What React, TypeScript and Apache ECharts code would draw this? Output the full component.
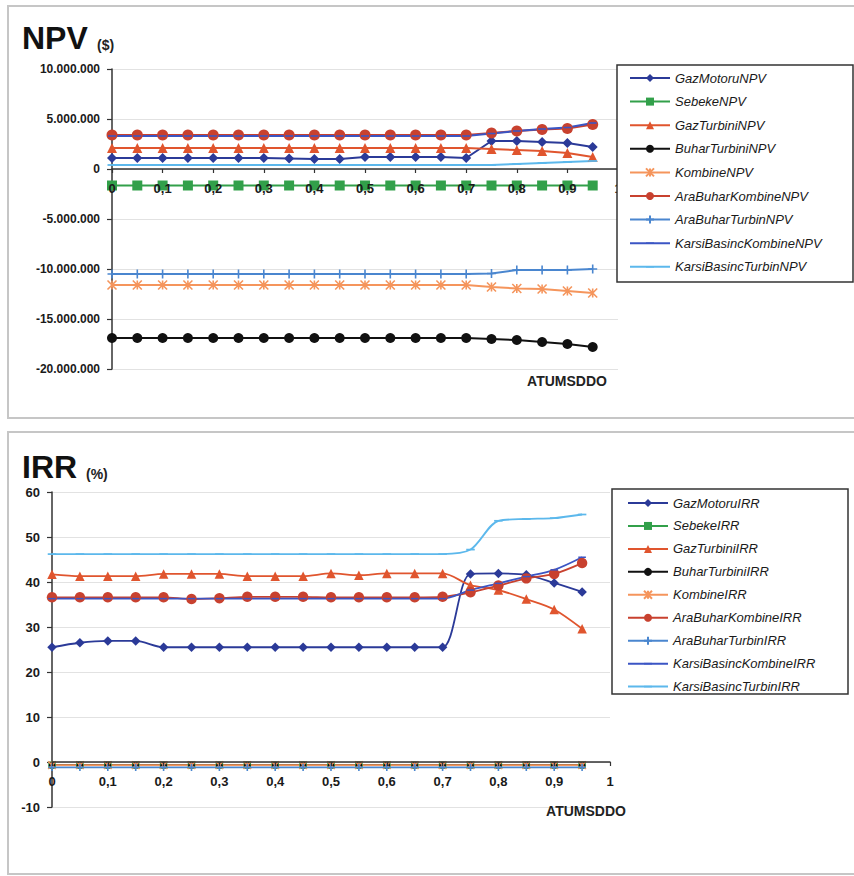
import React, { useEffect, useRef } from "react";
import * as echarts from "echarts";

// x values (ATUMSDDO)
const X = [0, 0.05, 0.1, 0.15, 0.2, 0.25, 0.3, 0.35, 0.4, 0.45, 0.5, 0.55, 0.6, 0.65, 0.7, 0.75, 0.8, 0.85, 0.9, 0.95];
const X_TICKS = [0, 0.1, 0.2, 0.3, 0.4, 0.5, 0.6, 0.7, 0.8, 0.9, 1];

const NPV_NAMES = [
  "GazMotoruNPV", "SebekeNPV", "GazTurbiniNPV", "BuharTurbiniNPV", "KombineNPV",
  "AraBuharKombineNPV", "AraBuharTurbinNPV", "KarsiBasincKombineNPV", "KarsiBasincTurbinNPV",
];
const IRR_NAMES = [
  "GazMotoruIRR", "SebekeIRR", "GazTurbiniIRR", "BuharTurbiniIRR", "KombineIRR",
  "AraBuharKombineIRR", "AraBuharTurbinIRR", "KarsiBasincKombineIRR", "KarsiBasincTurbinIRR",
];

// NPV values in millions of $
const gazMotoruNPV = [1.1, 1.1, 1.1, 1.1, 1.1, 1.1, 1.1, 1.05, 1.0, 1.0, 1.2, 1.2, 1.2, 1.2, 1.1, 2.8, 2.8, 2.7, 2.6, 2.2];
const sebekeNPV = [-1.65, -1.65, -1.65, -1.65, -1.65, -1.65, -1.65, -1.65, -1.65, -1.65, -1.65, -1.65, -1.65, -1.65, -1.65, -1.65, -1.65, -1.65, -1.65, -1.65];
const gazTurbiniNPV = [2.1, 2.1, 2.1, 2.1, 2.1, 2.1, 2.1, 2.1, 2.1, 2.1, 2.1, 2.1, 2.1, 2.1, 2.1, 2.0, 1.9, 1.8, 1.6, 1.2];
const buharTurbiniNPV = [-16.9, -16.9, -16.9, -16.9, -16.9, -16.9, -16.9, -16.9, -16.9, -16.9, -16.9, -16.9, -16.9, -16.9, -16.9, -17.0, -17.1, -17.3, -17.5, -17.8];
const kombineNPV = [-11.6, -11.6, -11.6, -11.6, -11.6, -11.6, -11.6, -11.6, -11.6, -11.6, -11.6, -11.6, -11.6, -11.6, -11.6, -11.8, -11.95, -12.0, -12.2, -12.4];
const araBuharKombineNPV = [3.4, 3.4, 3.4, 3.4, 3.4, 3.4, 3.4, 3.4, 3.4, 3.4, 3.4, 3.4, 3.4, 3.4, 3.4, 3.6, 3.8, 3.95, 4.05, 4.45];
const araBuharTurbinNPV = [-10.5, -10.5, -10.5, -10.5, -10.5, -10.5, -10.5, -10.5, -10.5, -10.5, -10.5, -10.5, -10.5, -10.5, -10.5, -10.45, -10.1, -10.1, -10.1, -10.0];
const karsiBasincKombineNPV = [3.3, 3.3, 3.3, 3.3, 3.3, 3.3, 3.3, 3.3, 3.3, 3.3, 3.3, 3.3, 3.3, 3.3, 3.3, 3.55, 3.8, 4.0, 4.15, 4.6];
const karsiBasincTurbinNPV = [0.4, 0.4, 0.4, 0.4, 0.4, 0.4, 0.4, 0.4, 0.4, 0.4, 0.4, 0.4, 0.4, 0.4, 0.4, 0.4, 0.5, 0.6, 0.7, 0.8];

// IRR values in %
const gazMotoruIRR = [25.5, 26.5, 26.9, 26.9, 25.5, 25.5, 25.5, 25.5, 25.5, 25.5, 25.5, 25.5, 25.5, 25.5, 25.5, 41.8, 41.9, 41.6, 39.8, 37.8];
const sebekeIRR = [-0.7, -0.7, -0.7, -0.7, -0.7, -0.7, -0.7, -0.7, -0.7, -0.7, -0.7, -0.7, -0.7, -0.7, -0.7, -0.7, -0.7, -0.7, -0.7, -0.7];
const gazTurbiniIRR = [41.7, 41.3, 41.3, 41.3, 41.8, 41.8, 41.8, 41.3, 41.3, 41.3, 41.9, 41.5, 41.9, 41.9, 41.9, 39.3, 38.2, 36.2, 33.9, 29.6];
const buharTurbiniIRR = [-0.7, -0.7, -0.7, -0.7, -0.7, -0.7, -0.7, -0.7, -0.7, -0.7, -0.7, -0.7, -0.7, -0.7, -0.7, -0.7, -0.7, -0.7, -0.7, -0.7];
const kombineIRR = [-0.7, -0.7, -0.7, -0.7, -0.7, -0.7, -0.7, -0.7, -0.7, -0.7, -0.7, -0.7, -0.7, -0.7, -0.7, -0.7, -0.7, -0.7, -0.7, -0.7];
const araBuharKombineIRR = [36.6, 36.6, 36.6, 36.6, 36.6, 36.2, 36.4, 36.7, 36.7, 36.7, 36.6, 36.6, 36.6, 36.6, 36.7, 37.7, 39.2, 40.8, 41.8, 44.2];
const araBuharTurbinIRR = [-1.2, -1.2, -1.2, -1.2, -1.2, -1.2, -1.2, -1.2, -1.2, -1.2, -1.2, -1.2, -1.2, -1.2, -1.2, -1.2, -1.2, -1.2, -1.2, -1.2];
const karsiBasincKombineIRR = [36.3, 36.3, 36.3, 36.3, 36.3, 36.3, 36.3, 36.3, 36.3, 36.3, 36.3, 36.3, 36.3, 36.3, 36.3, 38.2, 39.7, 41.2, 42.7, 45.5];
const karsiBasincTurbinIRR = [46.2, 46.2, 46.2, 46.2, 46.2, 46.2, 46.2, 46.2, 46.2, 46.2, 46.2, 46.2, 46.2, 46.2, 46.2, 47.2, 53.6, 54.0, 54.2, 55.0];

const NPV_Y_TICKS = [-20, -15, -10, -5, 0, 5, 10];
const IRR_Y_TICKS = [-10, 0, 10, 20, 30, 40, 50, 60];

const NPV_VALUES = [gazMotoruNPV, sebekeNPV, gazTurbiniNPV, buharTurbiniNPV, kombineNPV, araBuharKombineNPV, araBuharTurbinNPV, karsiBasincKombineNPV, karsiBasincTurbinNPV];
const IRR_VALUES = [gazMotoruIRR, sebekeIRR, gazTurbiniIRR, buharTurbiniIRR, kombineIRR, araBuharKombineIRR, araBuharTurbinIRR, karsiBasincKombineIRR, karsiBasincTurbinIRR];

const COLORS = ["#2b3a98", "#32a04a", "#e0552e", "#111111", "#f5955c", "#c8412f", "#4a86cf", "#3b55c4", "#5cb8ec"];
const DASH = "path://M0,0L0,0M0,4L10,4L10,6L0,6ZM10,10L10,10";
const MARKERS: any[] = [
  { symbol: "diamond", size: 10, stroke: false },
  { symbol: "rect", size: 10, stroke: false },
  { symbol: "triangle", size: 10, stroke: false },
  { symbol: "circle", size: 10, stroke: false },
  { symbol: "path://M0,0L10,10M10,0L0,10M5,0L5,10", size: 9, stroke: true },
  { symbol: "circle", size: 11, stroke: false },
  { symbol: "path://M5,0L5,10M0,5L10,5", size: 9, stroke: true },
  { symbol: DASH, size: 8, stroke: false },
  { symbol: DASH, size: 9, stroke: false },
];
const NPV_SIZE = [1, 1, 1, 1, 1, 1, 1, 1, 1];
const IRR_SIZE = [0.95, 0.75, 0.95, 0.65, 0.85, 0.95, 0.8, 0.95, 0.95];

const FONT = "'Liberation Sans', Arial, Helvetica, sans-serif";

function fmtThousands(n: number): string {
  const r = Math.round(n);
  const s = Math.abs(r).toString().replace(/\B(?=(\d{3})+(?!\d))/g, ".");
  return (r < 0 ? "-" : "") + s;
}
function fmtX(v: number): string {
  if (Math.abs(v) < 1e-9) return "0";
  if (Math.abs(v - 1) < 1e-9) return "1";
  return v.toFixed(1).replace(".", ",");
}

function buildSeries(names: string[], values: number[][], idx: number, smooth: number, lw: number, sizes: number[]) {
  return names.map((name, i) => {
    const m = MARKERS[i];
    return {
      name,
      type: "line",
      xAxisIndex: idx,
      yAxisIndex: idx,
      data: X.map((x, k) => [x, values[i][k]]),
      symbol: m.symbol,
      symbolSize: m.size * sizes[i],
      smooth,
      showSymbol: true,
      lineStyle: { color: COLORS[i], width: lw },
      itemStyle: m.stroke
        ? { color: COLORS[i], borderColor: COLORS[i], borderWidth: 1.6 }
        : { color: COLORS[i], borderWidth: 0 },
      emphasis: { disabled: true },
    };
  });
}

// grid geometry
const G1 = { left: 112, top: 69, width: 506, height: 300 };
const G2 = { left: 52, top: 492, width: 558, height: 315 };

function zeroOffset(g: { height: number }, ticks: number[]) {
  const min = ticks[0];
  const max = ticks[ticks.length - 1];
  return -g.height * (0 - min) / (max - min);
}

export default function App() {
  const ref = useRef<HTMLDivElement>(null);
  useEffect(() => {
    if (!ref.current) return;
    const chart = echarts.init(ref.current, undefined, { renderer: "svg" });
    const labelStyle = { fontFamily: FONT, fontWeight: "bold", fontSize: 13, color: "#1a1a1a" };
    const legendText = { fontFamily: FONT, fontStyle: "italic", fontSize: 13, color: "#1a1a1a" };
    const offsets = [zeroOffset(G1, NPV_Y_TICKS), zeroOffset(G2, IRR_Y_TICKS)];
    const option: any = {
      animation: false,
      backgroundColor: "#ffffff",
      grid: [
        { ...G1, containLabel: false },
        { ...G2, containLabel: false },
      ],
      xAxis: [0, 1].map((i) => ({
        type: "value",
        gridIndex: i,
        position: "bottom",
        offset: offsets[i],
        min: X_TICKS[0],
        max: X_TICKS[X_TICKS.length - 1],
        interval: 0.1,
        axisLine: { show: true, onZero: false, lineStyle: { color: "#333", width: 1.5 } },
        axisTick: { show: true, inside: false, length: 4, lineStyle: { color: "#333", width: 1.2 } },
        splitLine: { show: false },
        axisLabel: { ...labelStyle, margin: 13, formatter: (v: number) => fmtX(v) },
        z: 10,
      })),
      yAxis: [
        {
          type: "value",
          gridIndex: 0,
          min: NPV_Y_TICKS[0],
          max: NPV_Y_TICKS[NPV_Y_TICKS.length - 1],
          interval: 5,
          axisLine: { show: true, onZero: false, lineStyle: { color: "#333", width: 1.5 } },
          axisTick: { show: true, inside: false, length: 5, lineStyle: { color: "#333", width: 1.2 } },
          splitLine: { show: true, lineStyle: { color: "#e2e2e2", width: 1 } },
          axisLabel: { ...labelStyle, fontSize: 12, margin: 12, formatter: (v: number) => fmtThousands(v * 1e6) },
        },
        {
          type: "value",
          gridIndex: 1,
          min: IRR_Y_TICKS[0],
          max: IRR_Y_TICKS[IRR_Y_TICKS.length - 1],
          interval: 10,
          axisLine: { show: true, onZero: false, lineStyle: { color: "#333", width: 1.5 } },
          axisTick: { show: true, inside: false, length: 5, lineStyle: { color: "#333", width: 1.2 } },
          splitLine: { show: true, lineStyle: { color: "#e2e2e2", width: 1 } },
          axisLabel: { ...labelStyle, margin: 12 },
        },
      ],
      legend: [
        {
          data: NPV_NAMES,
          orient: "vertical",
          left: 629,
          top: 71.5,
          padding: 0,
          itemWidth: 40,
          itemHeight: 10,
          itemGap: 10.6,
          textStyle: legendText,
          selectedMode: false,
          z: 60,
        },
        {
          data: IRR_NAMES,
          orient: "vertical",
          left: 627,
          top: 496.5,
          padding: 0,
          itemWidth: 40,
          itemHeight: 10,
          itemGap: 9.95,
          textStyle: legendText,
          selectedMode: false,
          z: 60,
        },
      ],
      graphic: [
        { type: "rect", z: 1, silent: true, shape: { x: 8, y: 6, width: 880, height: 412 }, style: { fill: "none", stroke: "#c6c6c6", lineWidth: 2 } },
        { type: "rect", z: 1, silent: true, shape: { x: 8, y: 432, width: 880, height: 442 }, style: { fill: "none", stroke: "#c6c6c6", lineWidth: 2 } },
        { type: "rect", z: 50, silent: true, shape: { x: 617, y: 65, width: 236, height: 217 }, style: { fill: "#ffffff", stroke: "#333333", lineWidth: 1.5 } },
        { type: "rect", z: 50, silent: true, shape: { x: 612, y: 489, width: 236, height: 205 }, style: { fill: "#ffffff", stroke: "#333333", lineWidth: 1.5 } },
        { type: "text", z: 55, x: 22, y: 38, style: { text: "NPV", font: `bold 32px ${FONT}`, fill: "#111", textAlign: "left", textVerticalAlign: "middle", verticalAlign: "middle" } },
        { type: "text", z: 55, x: 97, y: 45, style: { text: "($)", font: `bold 14px ${FONT}`, fill: "#222", textAlign: "left", textVerticalAlign: "middle", verticalAlign: "middle" } },
        { type: "text", z: 55, x: 22, y: 467, style: { text: "IRR", font: `bold 32px ${FONT}`, fill: "#111", textAlign: "left", textVerticalAlign: "middle", verticalAlign: "middle" } },
        { type: "text", z: 55, x: 86, y: 474, style: { text: "(%)", font: `bold 14px ${FONT}`, fill: "#222", textAlign: "left", textVerticalAlign: "middle", verticalAlign: "middle" } },
        { type: "text", z: 55, x: 567, y: 381, style: { text: "ATUMSDDO", font: `bold 14px ${FONT}`, fill: "#222", textAlign: "center", align: "center", textVerticalAlign: "middle", verticalAlign: "middle" } },
        { type: "text", z: 55, x: 586, y: 811, style: { text: "ATUMSDDO", font: `bold 14px ${FONT}`, fill: "#222", textAlign: "center", align: "center", textVerticalAlign: "middle", verticalAlign: "middle" } },
      ],
      series: [
        ...buildSeries(NPV_NAMES, NPV_VALUES, 0, 0, 2, NPV_SIZE),
        ...buildSeries(IRR_NAMES, IRR_VALUES, 1, 0.3, 1.8, IRR_SIZE),
      ],
    };
    chart.setOption(option);
    return () => chart.dispose();
  }, []);
  return <div ref={ref} style={{ position: "absolute", left: 0, top: 0, width: 854, height: 876 }} />;
}
